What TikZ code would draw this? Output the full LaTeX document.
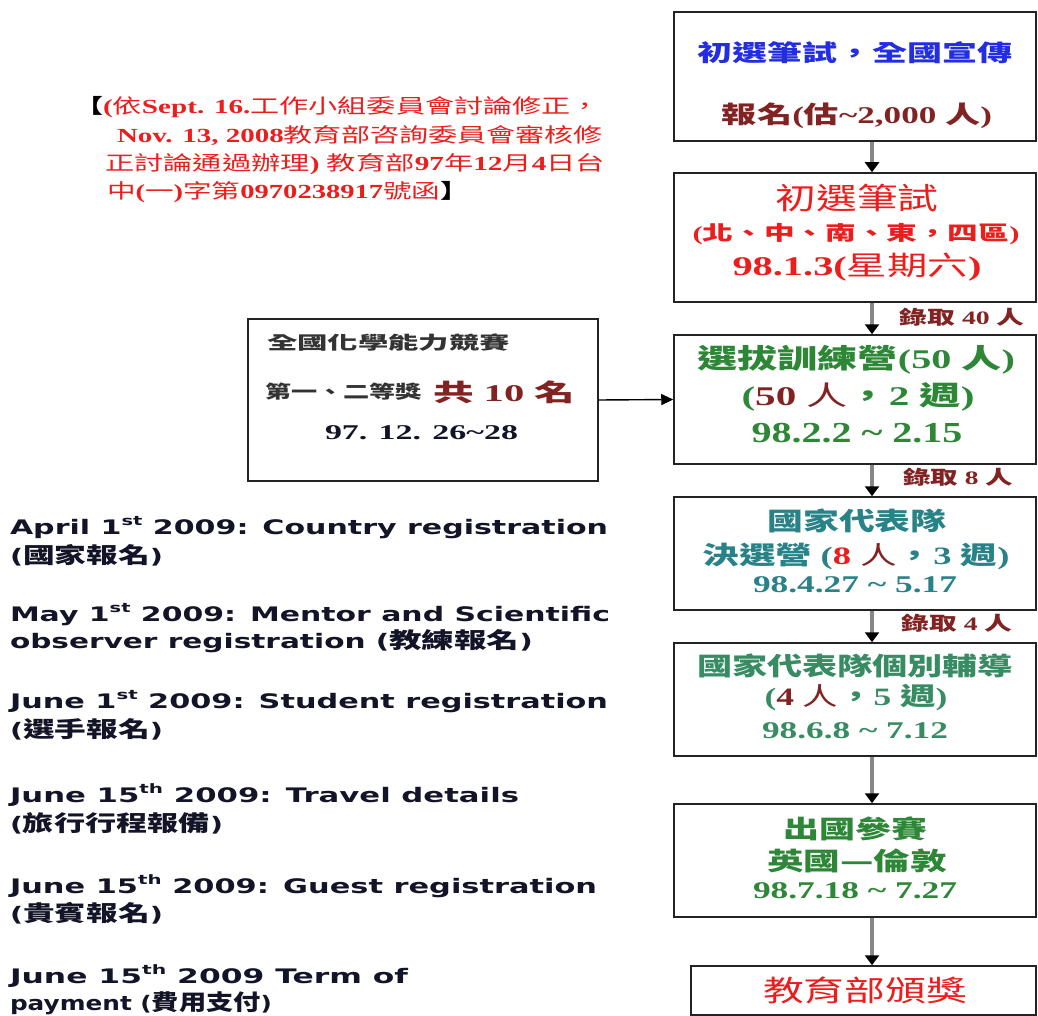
\documentclass[tikz,border=0pt]{standalone}
\usepackage{fontspec}
\usepackage{graphicx}
\usetikzlibrary{arrows.meta}
\setmainfont{Liberation Serif}
\newfontfamily\cjk{Noto Sans CJK TC}
\newfontfamily\verd{DejaVu Sans}
\newcommand\zk[1]{{\cjk\bfseries #1}}
\newcommand\zr[1]{{\cjk\mdseries #1}}
\newcommand\zt[1]{{\rmfamily\bfseries #1}}
\newcommand\zv[1]{{\verd\bfseries #1}}
\newcommand\zl[1]{{\cjk\bfseries\fontsize{22pt}{22pt}\selectfont #1}}
\newcommand\sups[1]{\raisebox{0.42em}{\fontsize{13pt}{13pt}\selectfont #1}}
\newcommand\fitline[3]{\resizebox{#1}{\height}{\fontsize{#2}{#2}\selectfont #3}}
\definecolor{cblue}{RGB}{35,45,225}
\definecolor{cdred}{RGB}{130,35,35}
\definecolor{cred}{RGB}{235,30,30}
\definecolor{cgreen}{RGB}{45,135,55}
\definecolor{cteal}{RGB}{40,130,135}
\definecolor{cgteal}{RGB}{55,140,100}
\definecolor{cgray}{RGB}{135,135,135}
\definecolor{cline}{RGB}{35,35,35}
\definecolor{ctext}{RGB}{20,20,40}
\begin{document}
\begin{tikzpicture}[x=1pt,y=-1pt,
  tl/.style={inner sep=0pt,outer sep=0pt},
  box/.style={draw=cline,line width=1.5pt,inner sep=0pt,minimum width=362pt},
  varrow/.style={draw=cgray,line width=3.2pt,-{Triangle[width=14pt,length=10pt,color=black]}},
  harrow/.style={draw=black,line width=1.4pt,-{Triangle[width=11pt,length=12pt]}}]
\useasboundingbox (0,0) rectangle (1038,1016);
% right column boxes
\node[box,minimum height=129pt] (b1) at (855,76.5) {};
\node[box,minimum height=129pt] (b2) at (855,237.5) {};
\node[box,minimum height=129pt] (b3) at (855,399.5) {};
\node[box,minimum height=113pt] (b4) at (855,553.5) {};
\node[box,minimum height=113pt] (b5) at (855,699.5) {};
\node[box,minimum height=113pt] (b6) at (855,860.5) {};
\node[box,minimum height=49pt,minimum width=345pt] (b7) at (863.5,990.5) {};
% left box
\node[draw=cline,line width=1.3pt,inner sep=0pt,minimum width=350pt,minimum height=162pt] (lbox) at (423,400) {};
% arrows
\coordinate (ax) at (872,0);
\draw[varrow] (b1.south -| ax) -- (b2.north -| ax);
\draw[varrow] (b2.south -| ax) -- (b3.north -| ax);
\draw[varrow] (b3.south -| ax) -- (b4.north -| ax);
\draw[varrow] (b4.south -| ax) -- (b5.north -| ax);
\draw[varrow] (b5.south -| ax) -- (b6.north -| ax);
\draw[varrow] (b6.south -| ax) -- (b7.north -| ax);
\draw[harrow] (lbox.east) -- (b3.west);
% box 1
\node[tl] (t1a) at (855,53) {\fitline{315pt}{23pt}{\color{cblue}\zk{初選筆試，全國宣傳}}};
\node[tl] (t1b) at (857,116) {\fitline{270pt}{24pt}{\color{cdred}\zk{報名}\zt{(}\zk{估}\zt{\textasciitilde 2,000 }\zk{人}\zt{)}}};
% box 2
\node[tl] (t2a) at (857,198) {\fitline{163pt}{30pt}{\color{cred}\zr{初選筆試}}};
\node[tl] (t2b) at (856,234) {\fitline{327pt}{20pt}{\color{cred}\zt{(}\zk{北、中、南、東，四區}\zt{)}}};
\node[tl] (t2c) at (857,267) {\fitline{249pt}{27pt}{\color{cred}\zt{98.1.3(}\zr{星期六}\zt{)}}};
% box 3
\node[tl] (t3a) at (856,360) {\fitline{318pt}{27pt}{\color{cgreen}\zk{選拔訓練營}\zt{(50 }\zk{人}\zt{)}}};
\node[tl] (t3b) at (858,397) {\fitline{233pt}{27pt}{\color{cgreen}\zt{(}\color{cdred}\zt{50 }\zr{人}\color{cgreen}\zk{，}\zt{2 }\zk{週}\zt{)}}};
\node[tl] (t3c) at (857,433) {\fitline{211pt}{29pt}{\color{cgreen}\zt{98.2.2 \textasciitilde{} 2.15}}};
% box 4
\node[tl] (t4a) at (857,521) {\fitline{179pt}{25pt}{\color{cteal}\zk{國家代表隊}}};
\node[tl] (t4b) at (856,556) {\fitline{307pt}{25pt}{\color{cteal}\zk{決選營 }\zt{(}\color{cred}\zt{8 }\color{cdred}\zr{人}\color{cteal}\zk{，}\zt{3 }\zk{週}\zt{)}}};
\node[tl] (t4c) at (855,585) {\fitline{204pt}{24pt}{\color{cteal}\zt{98.4.27 \textasciitilde{} 5.17}}};
% box 5
\node[tl] (t5a) at (855,666) {\fitline{316pt}{25pt}{\color{cgteal}\zk{國家代表隊個別輔導}}};
\node[tl] (t5b) at (856,698) {\fitline{183pt}{25pt}{\color{cgteal}\zt{(}\color{cdred}\zt{4 }\zr{人}\color{cgteal}\zk{，}\zt{5 }\zk{週}\zt{)}}};
\node[tl] (t5c) at (855,731) {\fitline{186pt}{24pt}{\color{cgteal}\zt{98.6.8 \textasciitilde{} 7.12}}};
% box 6
\node[tl] (t6a) at (855,829) {\fitline{144pt}{25pt}{\color{cgreen}\zk{出國參賽}}};
\node[tl] (t6b) at (857,861) {\fitline{180pt}{25pt}{\color{cgreen}\zk{英國—倫敦}}};
\node[tl] (t6c) at (855,891) {\fitline{204pt}{24pt}{\color{cgreen}\zt{98.7.18 \textasciitilde{} 7.27}}};
% box 7
\node[tl] (t7) at (865,990) {\fitline{204pt}{29pt}{\color{cred}\zr{教育部頒獎}}};
% arrow labels
\node[tl] (l1) at (962,317) {\fitline{125pt}{19pt}{\color{cdred}\zk{錄取}\zt{ 40 }\zk{人}}};
\node[tl] (l2) at (958,477) {\fitline{110pt}{19pt}{\color{cdred}\zk{錄取}\zt{ 8 }\zk{人}}};
\node[tl] (l3) at (957,623) {\fitline{111pt}{19pt}{\color{cdred}\zk{錄取}\zt{ 4 }\zk{人}}};
% left box text
\node[tl,anchor=west] (lb1) at (267,343) {\fitline{243pt}{18pt}{\color{black!80}\zk{全國化學能力競賽}}};
\node[tl,anchor=west] (lb2) at (265,392) {\fitline{157pt}{18pt}{\color{black!80}\zk{第一、二等獎}}};
\node[tl,anchor=west] (lb3) at (433,392) {\fitline{142pt}{24pt}{\color{cdred}\zk{共}\zt{ 10 }\zk{名}}};
\node[tl,anchor=west] (lb4) at (325,433) {\fitline{193pt}{21pt}{\color{ctext}\zt{97. 12. 26\textasciitilde 28}}};
% red note
\node[tl,anchor=west] (n1) at (74,107) {\fitline{526pt}{20pt}{\color{black}\zk{【}\color{cred}\zt{(}\zr{依}\zt{Sept. 16.}\zr{工作小組委員會討論修正，}}};
\node[tl,anchor=west] (n2) at (117,136) {\fitline{486pt}{20pt}{\color{cred}\zt{Nov. 13, 2008}\zr{教育部咨詢委員會審核修}}};
\node[tl,anchor=west] (n3) at (105,164) {\fitline{500pt}{20pt}{\color{cred}\zr{正討論通過辦理}\zt{) }\zr{教育部}\zt{97}\zr{年}\zt{12}\zr{月}\zt{4}\zr{日台}}};
\node[tl,anchor=west] (n4) at (107,192) {\fitline{362pt}{20pt}{\color{cred}\zr{中}\zt{(}\zr{一}\zt{)}\zr{字第}\zt{0970238917}\zr{號函}\color{black}\zk{】}}};
% list
\node[tl,anchor=base west] (e1) at (10,534) {\fitline{598pt}{20pt}{\color{ctext}\zv{April 1\sups{st} 2009: Country registration}}};
\node[tl,anchor=base west] (e2) at (10,563) {\fitline{153pt}{20pt}{\color{ctext}\zv{(}\zl{國家報名}\zv{)}}};
\node[tl,anchor=base west] (e3) at (10,621) {\fitline{600pt}{20pt}{\color{ctext}\zv{May 1\sups{st} 2009: Mentor and Scientific}}};
\node[tl,anchor=base west] (e4) at (10,648) {\fitline{523pt}{20pt}{\color{ctext}\zv{observer registration (}\zl{教練報名}\zv{)}}};
\node[tl,anchor=base west] (e5) at (10,708) {\fitline{598pt}{20pt}{\color{ctext}\zv{June 1\sups{st} 2009: Student registration}}};
\node[tl,anchor=base west] (e6) at (10,737) {\fitline{153pt}{20pt}{\color{ctext}\zv{(}\zl{選手報名}\zv{)}}};
\node[tl,anchor=base west] (e7) at (10,802) {\fitline{509pt}{20pt}{\color{ctext}\zv{June 15\sups{th} 2009: Travel details}}};
\node[tl,anchor=base west] (e8) at (10,831) {\fitline{213pt}{20pt}{\color{ctext}\zv{(}\zl{旅行行程報備}\zv{)}}};
\node[tl,anchor=base west] (e9) at (10,893) {\fitline{587pt}{20pt}{\color{ctext}\zv{June 15\sups{th} 2009: Guest registration}}};
\node[tl,anchor=base west] (e10) at (10,921) {\fitline{153pt}{20pt}{\color{ctext}\zv{(}\zl{貴賓報名}\zv{)}}};
\node[tl,anchor=base west] (e11) at (10,983) {\fitline{398pt}{20pt}{\color{ctext}\zv{June 15\sups{th} 2009 Term of}}};
\node[tl,anchor=base west] (e12) at (10,1010) {\fitline{262pt}{20pt}{\color{ctext}\zv{payment (}\zl{費用支付}\zv{)}}};
\end{tikzpicture}
\end{document}
